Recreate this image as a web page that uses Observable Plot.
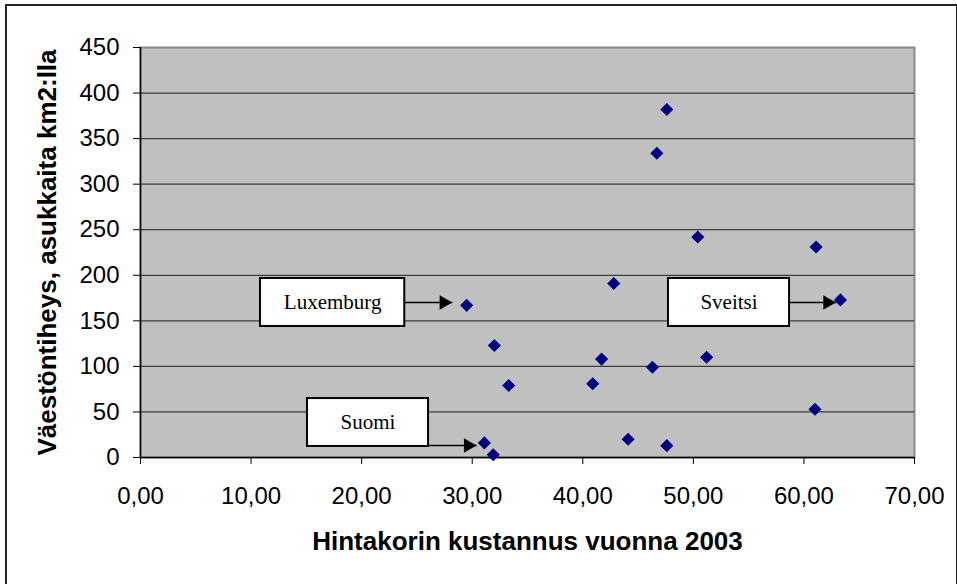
<!DOCTYPE html>
<html>
<head>
<meta charset="utf-8">
<script src="https://cdn.jsdelivr.net/npm/d3@7"></script>
<script src="https://cdn.jsdelivr.net/npm/@observablehq/plot@0.6"></script>
<style>
  html, body { margin: 0; padding: 0; background: #fff; }
  #wrap { position: relative; width: 957px; height: 584px; overflow: hidden; }
  #border { position: absolute; left: 5px; top: 4px; width: 949px; height: 700px; border: 2px solid #222; pointer-events: none; }
  svg { display: block; }
</style>
</head>
<body>
<div id="wrap"><div id="chart"></div><div id="border"></div></div>
<script>
// Data: price of the basket (x) vs population density (y)
const priceCost = [29.5, 32.0, 33.3, 31.1, 31.9, 42.8, 41.7, 40.9, 50.4, 61.1, 63.3, 46.3, 51.2, 61.0, 44.1, 47.6, 46.7, 47.6];
const density   = [167, 123, 79, 16, 3, 191, 108, 81, 242, 231, 173, 99, 110, 53, 20, 13, 334, 382];

const xTicks = [0, 10, 20, 30, 40, 50, 60, 70];
const yTicks = [0, 50, 100, 150, 200, 250, 300, 350, 400, 450];

const xTitle = "Hintakorin kustannus vuonna 2003";
const yTitle = "Väestöntiheys, asukkaita km2:lla";

// Callout boxes (data units)
const calloutLabels = ["Luxemburg", "Suomi", "Sveitsi"];
const boxX1 = [10.85, 15.1, 47.75];
const boxX2 = [23.9, 26.05, 58.7];
const boxY1 = [143.8, 12.1, 143.8];
const boxY2 = [196.5, 64.7, 196.5];
const arrowY = [170.1, 13.2, 170.1];
const arrowTipX = [28.2, 30.4, 62.9];

const points = priceCost.map((x, i) => ({x, y: density[i]}));
const callouts = calloutLabels.map((label, i) => ({
  label, x1: boxX1[i], x2: boxX2[i], y1: boxY1[i], y2: boxY2[i],
  ay: arrowY[i], tip: arrowTipX[i]
}));

const fmtX = d => d3.format(".2f")(d).replace(".", ",");

const chart = Plot.plot({
  width: 957,
  height: 584,
  marginLeft: 140,
  marginRight: 43,
  marginTop: 47,
  marginBottom: 127,
  style: { fontFamily: "Liberation Sans, Arial, sans-serif", background: "#fff", overflow: "visible" },
  x: { domain: [0, 70] },
  y: { domain: [0, 450] },
  marks: [
    Plot.frame({ fill: "#c0c0c0", stroke: "#8a8a8a", strokeWidth: 2 }),
    Plot.gridY(yTicks.filter(d => d > 0 && d < 450), { stroke: "#3c3c3c", strokeOpacity: 1, strokeWidth: 1.2 }),
    Plot.ruleX([0], { stroke: "#000", strokeWidth: 1.5 }),
    Plot.ruleY([0], { stroke: "#000", strokeWidth: 1.5 }),
    Plot.axisX(xTicks, { tickSize: 7, tickPadding: 22, tickFormat: fmtX, fontSize: 24, label: null,
      stroke: "#000", fill: "#000" }),
    Plot.axisY(yTicks, { tickSize: 7, tickPadding: 14, tickFormat: d => String(d), fontSize: 24, label: null,
      stroke: "#000", fill: "#000" }),
    Plot.text([xTitle], { frameAnchor: "bottom", dy: 92, lineAnchor: "bottom", text: d => d,
      fontSize: 26, fontWeight: "bold", fill: "#000" }),
    Plot.text([yTitle], { frameAnchor: "left", textAnchor: "middle", dx: -93, rotate: -90, lineAnchor: "middle", text: d => d,
      fontSize: 26, fontWeight: "bold", fill: "#000" }),
    // callouts
    Plot.rect(callouts, { x1: "x1", x2: "x2", y1: "y1", y2: "y2", fill: "#fff", stroke: "#000", strokeWidth: 2 }),
    Plot.text(callouts, { x: d => (d.x1 + d.x2) / 2, y: d => (d.y1 + d.y2) / 2, text: "label",
      fontSize: 21, fontFamily: "Liberation Serif, Times New Roman, serif", fill: "#000" }),
    Plot.link(callouts, { x1: "x2", x2: "tip", y1: "ay", y2: "ay", stroke: "#000", strokeWidth: 1.5 }),
    Plot.dot(callouts, { x: "tip", y: "ay", symbol: "triangle", rotate: 90, r: 5.4, dx: -8.5, fill: "#000", stroke: "none" }),
    // data points
    Plot.dot(points, { x: "x", y: "y", symbol: "diamond2", r: 5.9, fill: "#000080", stroke: "none" })
  ]
});
document.getElementById("chart").appendChild(chart);
</script>
</body>
</html>
